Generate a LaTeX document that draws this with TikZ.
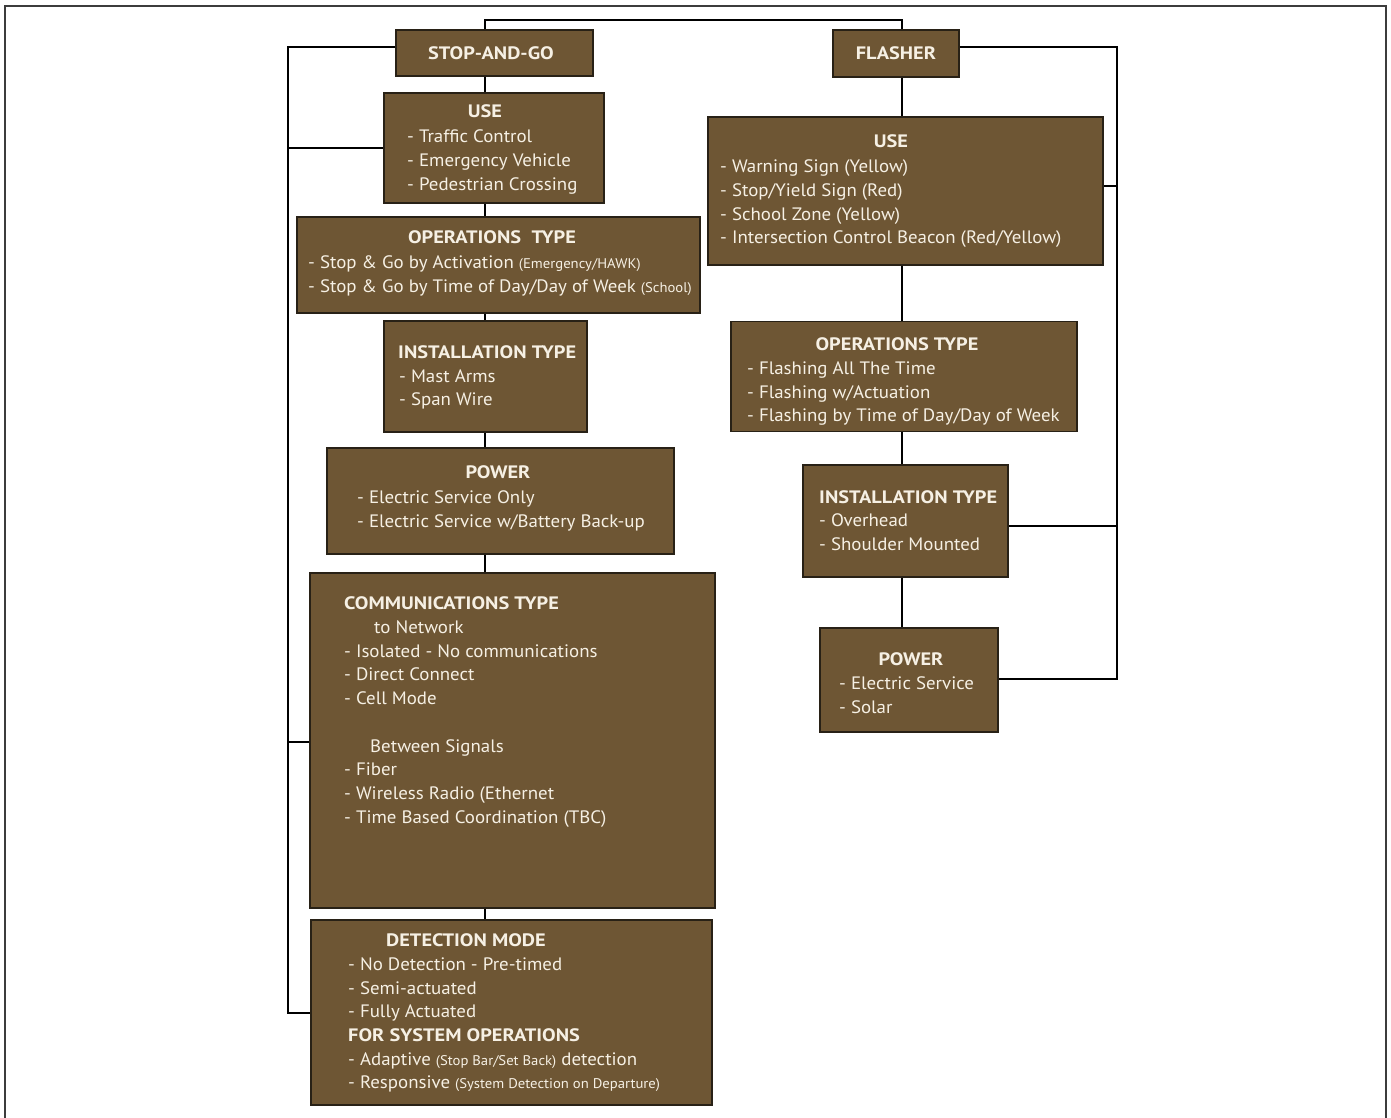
\documentclass[tikz,border=0pt]{standalone}
\usepackage{fontspec}
\setmainfont{PT Sans}[FakeStretch=1.05]
\newfontfamily\ttlfont{PT Sans}[FakeStretch=1.13]
\definecolor{boxfill}{RGB}{110,86,52}
\definecolor{boxline}{RGB}{40,33,22}
\definecolor{txt}{RGB}{246,240,228}
\definecolor{framec}{RGB}{60,60,60}
\newcommand\smallf{\fontsize{14}{15}\selectfont}
\begin{document}
\begin{tikzpicture}[x=1pt,y=-1pt,
  box/.style={draw=boxline, fill=boxfill, line width=1.2pt, inner sep=0pt},
  ttl/.style={text=txt, font=\ttlfont\fontsize{18}{20}\selectfont\bfseries, inner sep=0pt, anchor=base},
  ttlw/.style={ttl, anchor=base west},
  itm/.style={text=txt, font=\fontsize{18}{20}\selectfont, inner sep=0pt, anchor=base west},
  link/.style={draw=black, line width=2.4pt},
  framel/.style={draw=framec, line width=1.6pt}]
\useasboundingbox (0,0) rectangle (1391,1118);
% outer frame
\coordinate (fa) at (5,1120);
\coordinate (fb) at (5,6);
\coordinate (fc) at (1386,6);
\coordinate (fd) at (1386,1120);
\draw[framel] (fa) -- (fb) -- (fc) -- (fd);

% chain and bus coordinates
\coordinate (cl) at (485,0);
\coordinate (cr) at (902,0);
\coordinate (tl) at (485,20);
\coordinate (tr) at (902,20);
\coordinate (b1) at (288,47);
\coordinate (b2) at (288,148);
\coordinate (b3) at (288,742);
\coordinate (b4) at (288,1013);
\coordinate (r1) at (1117,47);
\coordinate (r2) at (1117,186);
\coordinate (r3) at (1117,526);
\coordinate (r4) at (1117,679);

% boxes (drawn first)
\node[box, minimum width=197pt, minimum height=46pt] (sg) at (494.5,53) {};
\node[box, minimum width=126pt, minimum height=47pt] (fl) at (896,53.5) {};
\node[box, minimum width=220pt, minimum height=110pt] (lu) at (494,148) {};
\node[box, minimum width=403pt, minimum height=96pt] (lo) at (498.5,265) {};
\node[box, minimum width=203pt, minimum height=111pt] (li) at (485.5,376.5) {};
\node[box, minimum width=347pt, minimum height=106pt] (lp) at (500.5,501) {};
\node[box, minimum width=405pt, minimum height=335pt] (lc) at (512.5,740.5) {};
\node[box, minimum width=401pt, minimum height=185pt] (ld) at (511.5,1012.5) {};
\node[box, minimum width=395pt, minimum height=148pt] (ru) at (905.5,191) {};
\node[box, minimum width=346pt, minimum height=110pt] (ro) at (904,376.5) {};
\node[box, minimum width=205pt, minimum height=112pt] (ri) at (905.5,521) {};
\node[box, minimum width=178pt, minimum height=104pt] (rp) at (909,680) {};

% connectors
\draw[link] (sg.north -| tl) -- (tl) -- (tr) -- (fl.north -| tr);
\draw[link] (sg.south -| cl) -- (lu.north -| cl);
\draw[link] (lu.south -| cl) -- (lo.north -| cl);
\draw[link] (lo.south -| cl) -- (li.north -| cl);
\draw[link] (li.south -| cl) -- (lp.north -| cl);
\draw[link] (lp.south -| cl) -- (lc.north -| cl);
\draw[link] (lc.south -| cl) -- (ld.north -| cl);
\draw[link] (fl.south -| cr) -- (ru.north -| cr);
\draw[link] (ru.south -| cr) -- (ro.north -| cr);
\draw[link] (ro.south -| cr) -- (ri.north -| cr);
\draw[link] (ri.south -| cr) -- (rp.north -| cr);
\draw[link] (b1 -| sg.west) -- (b1) -- (b4) -- (b4 -| ld.west);
\draw[link] (b2) -- (b2 -| lu.west);
\draw[link] (b3) -- (b3 -| lc.west);
\draw[link] (r1 -| fl.east) -- (r1) -- (r4) -- (r4 -| rp.east);
\draw[link] (r2) -- (r2 -| ru.east);
\draw[link] (r3) -- (r3 -| ri.east);

% texts
\node[ttl] (sgt) at (491,60) {STOP-AND-GO};
\node[ttl] (flt) at (896,60) {FLASHER};

\node[ttl] (lut) at (485,118) {USE};
\foreach \t [count=\i from 0] in {{- Traffic Control},{- Emergency Vehicle},{- Pedestrian Crossing}}
  \node[itm] (lu\i) at (407,{143+23.5*\i}) {\t};

\node[ttl] (lot) at (492,243) {OPERATIONS\ \ TYPE};
\node[itm] (lo0) at (308,268) {- Stop \& Go by Activation {\smallf (Emergency/HAWK)}};
\node[itm] (lo1) at (308,292) {- Stop \& Go by Time of Day/Day of Week {\smallf (School)}};

\node[ttlw] (lit) at (398,358) {INSTALLATION TYPE};
\foreach \t [count=\i from 0] in {{- Mast Arms},{- Span Wire}}
  \node[itm] (li\i) at (399,{382+23.5*\i}) {\t};

\node[ttl] (lpt) at (498,478) {POWER};
\foreach \t [count=\i from 0] in {{- Electric Service Only},{- Electric Service w/Battery Back-up}}
  \node[itm] (lp\i) at (357,{503+24*\i}) {\t};

\node[ttlw] (lct) at (344,609) {COMMUNICATIONS TYPE};
\node[itm] (lcn) at (374,633) {to Network};
\foreach \t [count=\i from 0] in {{- Isolated - No communications},{- Direct Connect},{- Cell Mode}}
  \node[itm] (lca\i) at (344,{657+23.5*\i}) {\t};
\node[itm] (lcs) at (370,752) {Between Signals};
\foreach \t [count=\i from 0] in {{- Fiber},{- Wireless Radio (Ethernet},{- Time Based Coordination (TBC)}}
  \node[itm] (lcb\i) at (344,{775.5+23.8*\i}) {\t};

\node[ttlw] (ldt) at (386,946) {DETECTION MODE};
\foreach \t [count=\i from 0] in {{- No Detection - Pre-timed},{- Semi-actuated},{- Fully Actuated}}
  \node[itm] (lda\i) at (348,{970.5+23.7*\i}) {\t};
\node[ttlw] (lds) at (348,1041) {FOR SYSTEM OPERATIONS};
\node[itm] (ldb0) at (348,1065) {- Adaptive {\smallf (Stop Bar/Set Back)} detection};
\node[itm] (ldb1) at (348,1088) {- Responsive {\smallf (System Detection on Departure)}};

\node[ttl] (rut) at (891,148) {USE};
\foreach \t [count=\i from 0] in {{- Warning Sign (Yellow)},{- Stop/Yield Sign (Red)},{- School Zone (Yellow)},{- Intersection Control Beacon (Red/Yellow)}}
  \node[itm] (ru\i) at (720,{173+23.5*\i}) {\t};

\node[ttl] (rot) at (897,350) {OPERATIONS TYPE};
\foreach \t [count=\i from 0] in {{- Flashing All The Time},{- Flashing w/Actuation},{- Flashing by Time of Day/Day of Week}}
  \node[itm] (ro\i) at (747,{374.5+23.7*\i}) {\t};

\node[ttlw] (rit) at (819,503) {INSTALLATION TYPE};
\foreach \t [count=\i from 0] in {{- Overhead},{- Shoulder Mounted}}
  \node[itm] (ri\i) at (819,{526.5+24*\i}) {\t};

\node[ttl] (rpt) at (911,665) {POWER};
\foreach \t [count=\i from 0] in {{- Electric Service},{- Solar}}
  \node[itm] (rp\i) at (839,{689+24*\i}) {\t};
\end{tikzpicture}
\end{document}
